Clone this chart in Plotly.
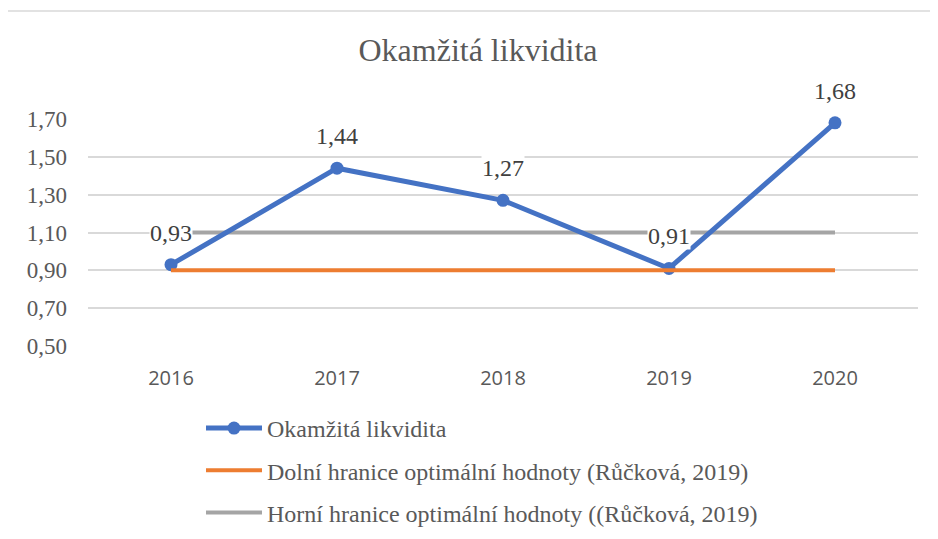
import plotly.graph_objects as go

years = ["2016", "2017", "2018", "2019", "2020"]
likvidita = [0.93, 1.44, 1.27, 0.91, 1.68]
dolni = [0.90, 0.90, 0.90, 0.90, 0.90]
horni = [1.10, 1.10, 1.10, 1.10, 1.10]
labels = ["0,93", "1,44", "1,27", "0,91", "1,68"]

name_main = "Okamžitá likvidita"
name_dolni = "Dolní hranice optimální hodnoty (Růčková, 2019)"
name_horni = "Horní hranice optimální hodnoty ((Růčková, 2019)"

SERIF = "Liberation Serif, Times New Roman, serif"
TXT = "#595959"

W, H = 938, 539
OFF = 8  # page body margin
# desired rendered plot area: x 88..918, y 119..346
l = 88 - OFF
t = 119 - OFF
r = W - (918 - OFF)
b = H - (346 - OFF)
pw, ph = W - l - r, H - t - b
def px(xr): return (xr - OFF - l) / pw
def py(yr): return (H - b - (yr - OFF)) / ph

fig = go.Figure()
fig.add_trace(go.Scatter(x=years, y=horni, mode="lines", name=name_horni,
                         line=dict(color="#A5A5A5", width=4), legendrank=3,
                         legendgroup="g3"))
fig.add_trace(go.Scatter(x=years, y=likvidita, mode="lines+markers", name=name_main,
                         line=dict(color="#4472C4", width=5),
                         marker=dict(size=13, color="#4472C4"), legendrank=1,
                         legendgroup="g1"))
fig.add_trace(go.Scatter(x=years, y=dolni, mode="lines", name=name_dolni,
                         line=dict(color="#ED7D31", width=4), legendrank=2,
                         legendgroup="g2"))

for i, (y, txt) in enumerate(zip(likvidita, labels)):
    fig.add_annotation(x=i, y=y, xref="x", yref="y", text=txt, showarrow=False, yshift=32,
                       font=dict(family=SERIF, size=24, color="#404040"),
                       bgcolor="white", borderpad=0)

fig.add_shape(type="rect", xref="paper", yref="paper",
              x0=px(6), x1=px(960), y0=py(570), y1=py(11),
              line=dict(color="#D9D9D9", width=1.5), fillcolor="rgba(0,0,0,0)", layer="below")

fig.update_layout(
    width=W, height=H,
    margin=dict(l=l, r=r, t=t, b=b),
    paper_bgcolor="white", plot_bgcolor="white",
    separators=", ",
    title=dict(text="Okamžitá likvidita", x=(478 - OFF) / W, xanchor="center",
               y=1 - (50 - OFF) / H, yanchor="middle",
               font=dict(family=SERIF, size=32, color=TXT)),
    xaxis=dict(type="category", showgrid=False, showline=False, ticks="",
               tickfont=dict(family="Open Sans, Noto Sans, sans-serif", size=20, color=TXT),
               ticklabelstandoff=18, range=[-0.5, 4.5], fixedrange=True),
    yaxis=dict(range=[0.5, 1.7], tick0=0.5, dtick=0.2, tickformat=".2f",
               showgrid=True, gridcolor="#D9D9D9", gridwidth=1.5,
               zeroline=False, showline=False, ticks="",
               tickfont=dict(family=SERIF, size=23, color=TXT),
               ticklabelstandoff=20),
    legend=dict(x=px(201), y=py(406), xanchor="left", yanchor="top",
                font=dict(family=SERIF, size=24, color=TXT),
                itemwidth=56, tracegroupgap=8, bgcolor="rgba(0,0,0,0)",
                traceorder="grouped"),
    showlegend=True,
)
for tr in fig.data:
    tr.cliponaxis = False

fig.write_html("out.html")
